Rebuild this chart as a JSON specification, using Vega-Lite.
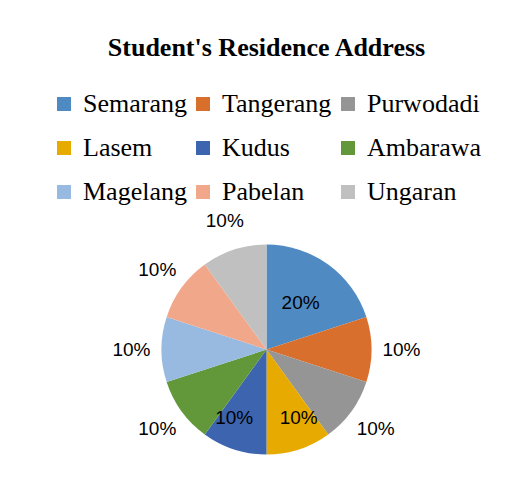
{
  "$schema": "https://vega.github.io/schema/vega-lite/v6.json",
  "width": 528,
  "height": 487,
  "autosize": {"type": "fit", "contains": "padding"},
  "padding": {"left": 10, "right": 5, "top": 35, "bottom": 5},
  "background": "white",
  "title": {
    "text": "Student's Residence Address",
    "font": "Liberation Serif",
    "fontSize": 26,
    "fontWeight": "bold",
    "color": "#000000",
    "anchor": "middle",
    "offset": 30
  },
  "data": {
    "values": [
      {"city": "Semarang", "share": 0.2, "rank": 1},
      {"city": "Tangerang", "share": 0.1, "rank": 2},
      {"city": "Purwodadi", "share": 0.1, "rank": 3},
      {"city": "Lasem", "share": 0.1, "rank": 4},
      {"city": "Kudus", "share": 0.1, "rank": 5},
      {"city": "Ambarawa", "share": 0.1, "rank": 6},
      {"city": "Magelang", "share": 0.1, "rank": 7},
      {"city": "Pabelan", "share": 0.1, "rank": 8},
      {"city": "Ungaran", "share": 0.1, "rank": 9}
    ]
  },
  "encoding": {
    "theta": {"field": "share", "type": "quantitative", "stack": true},
    "order": {"field": "rank", "type": "quantitative"}
  },
  "layer": [
    {
      "mark": {"type": "arc", "radius": 105, "stroke": null},
      "encoding": {
        "color": {
          "field": "city",
          "type": "nominal",
          "scale": {
            "domain": ["Semarang", "Tangerang", "Purwodadi", "Lasem", "Kudus", "Ambarawa", "Magelang", "Pabelan", "Ungaran"],
            "range": ["#4F8AC2", "#D96F2D", "#959595", "#E6AA00", "#3D64AE", "#62983A", "#99BAE0", "#F1A88A", "#C0C0C0"]
          },
          "legend": {
            "title": null,
            "orient": "top",
            "direction": "horizontal",
            "columns": 3,
            "symbolType": "square",
            "symbolSize": 196,
            "symbolStrokeWidth": 0,
            "labelFont": "Liberation Serif",
            "labelFontSize": 26,
            "labelColor": "#000000",
            "labelOffset": 6,
            "labelLimit": 300,
            "columnPadding": 3,
            "rowPadding": 18,
            "offset": 12
          }
        }
      }
    },
    {
      "mark": {"type": "text", "radius": 58, "font": "Liberation Sans", "fontSize": 19, "color": "#000000"},
      "encoding": {
        "text": {
          "condition": {"test": "datum.city == 'Semarang'", "field": "share", "format": ".0%"},
          "value": ""
        }
      }
    },
    {
      "mark": {"type": "text", "radius": 72, "dx": 10, "font": "Liberation Sans", "fontSize": 19, "color": "#000000"},
      "encoding": {
        "text": {
          "condition": {"test": "datum.city == 'Lasem'", "field": "share", "format": ".0%"},
          "value": ""
        }
      }
    },
    {
      "mark": {"type": "text", "radius": 72, "dx": -10, "font": "Liberation Sans", "fontSize": 19, "color": "#000000"},
      "encoding": {
        "text": {
          "condition": {"test": "datum.city == 'Kudus'", "field": "share", "format": ".0%"},
          "value": ""
        }
      }
    },
    {
      "mark": {"type": "text", "radius": 135, "font": "Liberation Sans", "fontSize": 19, "color": "#000000"},
      "encoding": {
        "text": {
          "condition": {"test": "indexof(['Semarang','Lasem','Kudus'], datum.city) < 0", "field": "share", "format": ".0%"},
          "value": ""
        }
      }
    }
  ],
  "config": {
    "view": {"stroke": null},
    "legend": {"layout": {"top": {"anchor": "middle"}}}
  }
}
